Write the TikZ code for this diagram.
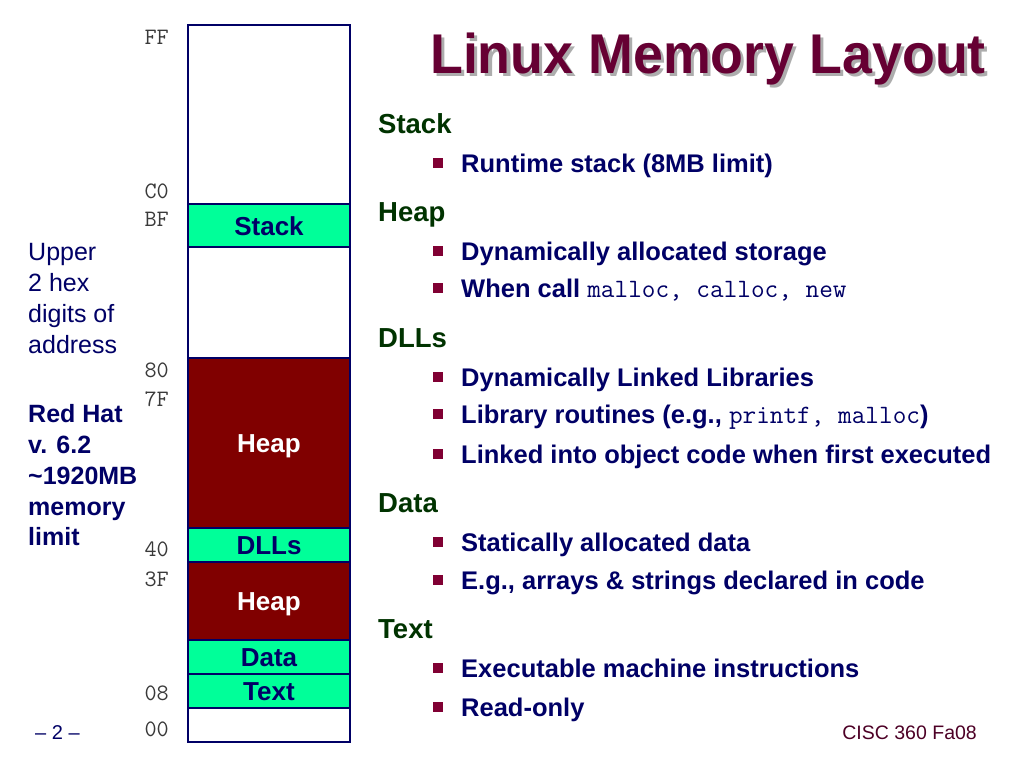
\documentclass[tikz,border=0pt]{standalone}
\usepackage{graphicx}
\usepackage{fontspec}
\setmainfont{Liberation Sans}
\definecolor{navy}{HTML}{000066}
\definecolor{mint}{HTML}{00FF99}
\definecolor{heapred}{HTML}{800000}
\definecolor{titlered}{HTML}{660033}
\definecolor{headgreen}{HTML}{003300}
\definecolor{bulletred}{HTML}{800033}
\definecolor{hexgray}{HTML}{3A3A3A}
\definecolor{footred}{HTML}{4D0026}
\tikzset{
 seg/.style={draw=navy, line width=2.5pt, minimum width=162pt, inner sep=0pt, text height=19pt, text depth=0pt, font=\fontsize{26}{30}\selectfont\bfseries},
 segA/.style={seg, fill=mint, text=navy},
 segH/.style={seg, fill=heapred, text=white},
 segE/.style={seg, fill=white},
 hex/.style={anchor=base east, inner sep=0pt, text=hexgray, font=\fontsize{23.5}{26}\selectfont\ttfamily},
 head/.style={anchor=base west, inner sep=0pt, text=headgreen, font=\fontsize{27.5}{30}\selectfont\bfseries},
 item/.style={anchor=base west, inner sep=0pt, text=navy, font=\fontsize{25.5}{30}\selectfont\bfseries},
 bul/.style={fill=bulletred, minimum size=10pt, inner sep=0pt},
 note/.style={anchor=base west, inner sep=0pt, text=navy, font=\fontsize{25}{30}\selectfont},
 notebf/.style={note, font=\fontsize{25}{30}\selectfont\bfseries},
 titletext/.style={anchor=base west, inner sep=0pt, font=\fontsize{56}{60}\selectfont\bfseries},
}
\newcommand{\cd}[1]{{\fontsize{26.5}{30}\selectfont\ttfamily\mdseries #1}}
\begin{document}
\begin{tikzpicture}[x=1pt,y=-1pt]
\useasboundingbox (0,0) rectangle (1024,768);
\fill[white] (0,0) rectangle (1024,768);
% memory column
\node[segE, minimum height=179pt] (sfree) at (269,114.5) {};
\node[segA, minimum height=43pt] (sstack) at (269,225.5) {Stack};
\node[segE, minimum height=111pt] (sgap) at (269,302.5) {};
\node[segH, minimum height=170pt] (sheapa) at (269,443) {Heap};
\node[segA, minimum height=34pt] (sdll) at (269,545) {DLLs};
\node[segH, minimum height=78pt] (sheapb) at (269,601) {Heap};
\node[segA, minimum height=34pt] (sdata) at (269,657) {Data};
\node[segA, minimum height=34pt] (stext) at (269,691) {Text};
\node[segE, minimum height=34pt] (szero) at (269,725) {};
% hex labels
\node[hex] (hFF) at (169,45) {FF};
\node[hex] (hC0) at (169,198) {C0};
\node[hex] (hBF) at (169,226) {BF};
\node[hex] (h80) at (169,377) {80};
\node[hex] (h7F) at (169,406) {7F};
\node[hex] (h40) at (169,556) {40};
\node[hex] (h3F) at (169,586) {3F};
\node[hex] (h08) at (169,700) {08};
\node[hex] (h00) at (169,736) {00};
% left notes
\node[note] (n1) at (28,260) {Upper};
\node[note] (n2) at (28,291) {2 hex};
\node[note] (n3) at (28,322) {digits of};
\node[note] (n4) at (28,353) {address};
\node[notebf] (r1) at (28,422) {Red Hat};
\node[notebf] (r2) at (28,453) {v. 6.2};
\node[notebf] (r3) at (28,484) {\textasciitilde1920MB};
\node[notebf] (r4) at (28,515) {memory};
\node[notebf] (r5) at (28,545) {limit};
% title
\node[titletext, text=black!32] (tshadow) at (433,76) {\scalebox{0.96}[1]{Linux Memory Layout}};
\node[titletext, text=titlered] (title) at (430,73) {\scalebox{0.96}[1]{Linux Memory Layout}};
% headings
\node[head] (kstack) at (378,133) {Stack};
\node[head] (kheap) at (378,221) {Heap};
\node[head] (kdll) at (378,347) {DLLs};
\node[head] (kdata) at (378,512) {Data};
\node[head] (ktext) at (378,638) {Text};
% bullets
\node[bul] (b1) at (438,162.5) {};
\node[item] (i1) at (461,172) {Runtime stack (8MB limit)};
\node[bul] (b2) at (438,250.5) {};
\node[item] (i2) at (461,260) {Dynamically allocated storage};
\node[bul] (b3) at (438,287.5) {};
\node[item] (i3) at (461,297) {When call \cd{malloc, calloc, new}};
\node[bul] (b4) at (438,376.5) {};
\node[item] (i4) at (461,386) {Dynamically Linked Libraries};
\node[bul] (b5) at (438,413.5) {};
\node[item] (i5) at (461,423) {Library routines (e.g., \cd{printf, malloc})};
\node[bul] (b6) at (438,453.5) {};
\node[item] (i6) at (461,463) {Linked into object code when first executed};
\node[bul] (b7) at (438,541.5) {};
\node[item] (i7) at (461,551) {Statically allocated data};
\node[bul] (b8) at (438,579.5) {};
\node[item] (i8) at (461,589) {E.g., arrays \& strings declared in code};
\node[bul] (b9) at (438,667.5) {};
\node[item] (i9) at (461,677) {Executable machine instructions};
\node[bul] (b10) at (438,706.5) {};
\node[item] (i10) at (461,716) {Read-only};
% footer
\node[anchor=base west, inner sep=0pt, text=navy, font=\fontsize{20}{24}\selectfont] (page) at (35,739) {\textendash\ 2 \textendash};
\node[anchor=base east, inner sep=0pt, text=footred, font=\fontsize{19.5}{24}\selectfont] (course) at (977,739) {CISC 360 Fa08};
\end{tikzpicture}
\end{document}
